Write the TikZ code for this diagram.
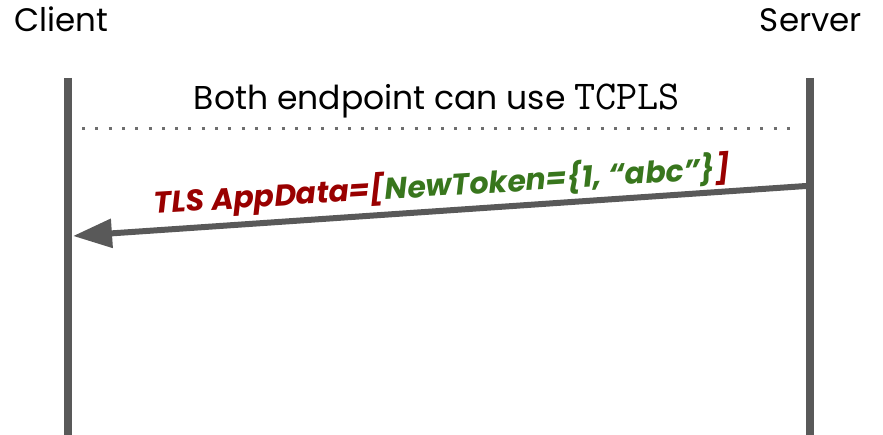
\documentclass[tikz,border=0pt]{standalone}
\usepackage{fontspec}
\setmainfont{Poppins}
\usetikzlibrary{arrows.meta}
\definecolor{lifegray}{HTML}{595959}
\definecolor{dotgray}{HTML}{6E6E6E}
\definecolor{msgred}{HTML}{990000}
\definecolor{msggreen}{HTML}{38761D}
\tikzset{
  lifeline/.style={draw=lifegray, line width=8pt},
  actor/.style={inner sep=0pt, font=\fontsize{32.5}{38}\selectfont},
  note/.style={inner sep=0pt, font=\fontsize{33}{38}\selectfont},
  separator/.style={draw=dotgray, line width=3pt, dash pattern=on 3pt off 10.3pt},
  message/.style={draw=lifegray, line width=6pt,
    -{Triangle[length=39pt, width=28pt]}},
  msglabel/.style={inner sep=0pt, font=\fontsize{30}{36}\selectfont\bfseries\itshape}
}
\begin{document}
\begin{tikzpicture}[x=1pt, y=-1pt]
  \useasboundingbox (0,0) rectangle (883,435);

  % participants
  \node[actor, anchor=base west] (client) at (14,32) {Client};
  \node[actor, anchor=base east] (server) at (862,32) {Server};

  % lifelines
  \coordinate (ctop) at (68,78);
  \coordinate (cbot) at (68,435);
  \coordinate (stop) at (810,78);
  \coordinate (sbot) at (810,435);
  \draw[lifeline] (ctop) -- (cbot);
  \draw[lifeline] (stop) -- (sbot);

  % shared state note and dotted separator
  \node[note, anchor=base] (both) at (437,110)
    {Both endpoint can use {\ttfamily\fontsize{41}{44}\selectfont TCPLS}};
  \coordinate (dl) at (82,129);
  \coordinate (dr) at (792,129);
  \draw[separator] (dl) -- (dr);

  % message from server to client
  \coordinate (msgfrom) at (806,186);
  \coordinate (msgto) at (73,236);
  \draw[message] (msgfrom) -- (msgto);
  \node[msglabel, anchor=base, rotate=3.5] (label) at (443,196)
    {\textcolor{msgred}{TLS AppData=[}\textcolor{msggreen}{NewToken=\{1, “abc”\}}\textcolor{msgred}{]}};
\end{tikzpicture}
\end{document}
